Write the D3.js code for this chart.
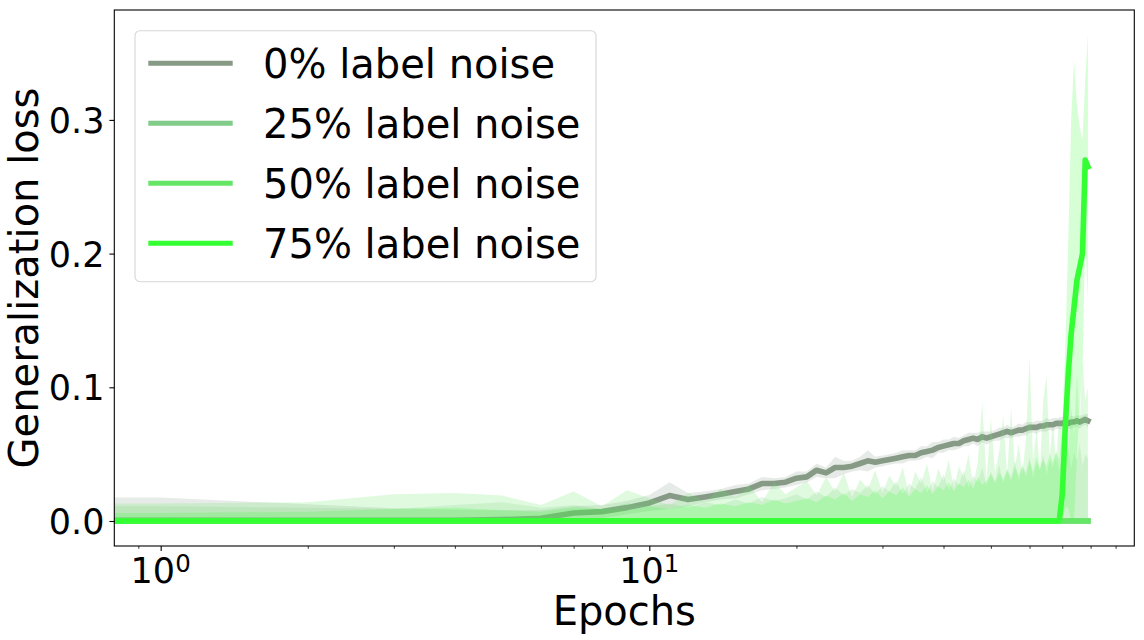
<!DOCTYPE html>
<html><head><meta charset="utf-8">
<script src="https://cdn.jsdelivr.net/npm/d3@7"></script>
<style>
body{margin:0;background:#fff;}
svg{display:block;}
text{font-family:"DejaVu Sans",sans-serif;fill:#000;}
</style>
</head><body>
<svg id="c" width="1144" height="640"></svg>
<script>
// ---------- data (epochs 1..79) ----------
const epochs = d3.range(1, 80);

const mean0 = [
  0.0005,0.0005,0.0005,0.0005,0.001,0.002,0.006,0.007,0.010,0.0135,
  0.019,0.016,0.018,0.020,0.022,0.024,0.028,0.028,0.029,0.032,
  0.033,0.038,0.036,0.040,0.040,0.041,0.043,0.045,0.044,0.045,
  0.046,0.047,0.048,0.049,0.049,0.051,0.052,0.053,0.055,0.056,
  0.057,0.058,0.058,0.060,0.061,0.062,0.061,0.063,0.062,0.063,
  0.064,0.065,0.066,0.067,0.066,0.067,0.068,0.068,0.069,0.070,
  0.070,0.070,0.071,0.071,0.072,0.072,0.072,0.073,0.073,0.073,
  0.074,0.073,0.074,0.074,0.075,0.074,0.075,0.076,0.075
];
const spread0 = [
  0.017,0.012,0.009,0.008,0.007,0.006,0.005,0.005,0.005,0.006,
  0.010,0.005,0.004,0.004,0.005,0.004,0.005,0.004,0.004,0.005,
  0.004,0.005,0.004,0.008,0.005,0.004,0.005,0.008,0.004,0.004,
  0.004,0.004,0.005,0.004,0.004,0.005,0.004,0.006,0.004,0.005,
  0.004,0.005,0.004,0.004,0.005,0.004,0.005,0.004,0.005,0.004,
  0.004,0.005,0.004,0.005,0.004,0.004,0.005,0.004,0.005,0.004,
  0.004,0.005,0.004,0.004,0.005,0.004,0.005,0.004,0.004,0.005,
  0.004,0.004,0.005,0.004,0.004,0.005,0.004,0.004,0.005
];
const mean25 = [
  0,0,0,0,0,0,0,0,0,0, 0,0,0,0,0,0,0,0,0,0, 0,0,0,0,0,0,0,0,0,0,
  0,0,0,0,0,0,0,0,0,0, 0,0,0,0,0,0,0,0,0,0, 0,0,0,0,0,0,0,0,0,0,
  0,0,0,0,0,0,0,0,0,0, 0,0,0,0,0,0,0,0,0
];
const spread25 = [
  0.011,0.010,0.009,0.012,0.014,0.010,0.012,0.009,0.013,0.011,
  0.013,0.010,0.014,0.012,0.016,0.013,0.018,0.015,0.017,0.020,
  0.016,0.022,0.018,0.025,0.019,0.024,0.021,0.027,0.020,0.026,
  0.022,0.030,0.020,0.028,0.024,0.033,0.021,0.030,0.025,0.035,
  0.023,0.032,0.027,0.038,0.025,0.034,0.029,0.040,0.026,0.037,
  0.030,0.042,0.028,0.039,0.033,0.045,0.030,0.041,0.036,0.048,
  0.032,0.044,0.038,0.050,0.034,0.046,0.040,0.052,0.037,0.049,
  0.042,0.055,0.039,0.051,0.045,0.058,0.041,0.050,0.047
];
const mean50 = [
  0,0,0,0,0,0,0,0,0,0, 0,0,0,0,0,0,0,0,0,0, 0,0,0,0,0,0,0,0,0,0,
  0,0,0,0,0,0,0,0,0,0, 0,0,0,0,0,0,0,0,0,0, 0,0,0,0,0,0,0,0,0,0,
  0,0,0,0,0,0,0,0,0,0, 0,0,0,0,0,0,0,0,0
];
const spread50 = [
  0.013,0.014,0.020,0.021,0.019,0.012,0.022,0.011,0.023,0.017,
  0.012,0.021,0.015,0.024,0.018,0.027,0.014,0.029,0.020,0.025,
  0.030,0.019,0.033,0.022,0.036,0.018,0.031,0.024,0.038,0.021,
  0.034,0.026,0.040,0.020,0.037,0.028,0.043,0.022,0.039,0.030,
  0.046,0.024,0.041,0.033,0.050,0.027,0.044,0.089,0.031,0.077,
  0.036,0.052,0.079,0.034,0.085,0.040,0.058,0.035,0.062,0.123,
  0.045,0.070,0.038,0.090,0.109,0.048,0.075,0.042,0.080,0.060,
  0.095,0.050,0.085,0.065,0.110,0.070,0.120,0.090,0.100
];
const mean75 = [
  0,0,0,0,0,0,0,0,0,0, 0,0,0,0,0,0,0,0,0,0, 0,0,0,0,0,0,0,0,0,0,
  0,0,0,0,0,0,0,0,0,0, 0,0,0,0,0,0,0,0,0,0, 0,0,0,0,0,0,0,0,0,0,
  0,0,0,0,0,0,0,0,0,0.02, 0.07,0.11,0.14,0.16,0.18,0.19,0.20,0.27,0.265
];
const spread75 = [
  0.006,0.007,0.009,0.010,0.008,0.007,0.010,0.009,0.008,0.011,
  0.009,0.012,0.010,0.013,0.011,0.014,0.012,0.016,0.013,0.015,
  0.017,0.014,0.019,0.016,0.021,0.015,0.020,0.018,0.023,0.017,
  0.022,0.019,0.025,0.018,0.024,0.021,0.027,0.020,0.026,0.023,
  0.029,0.022,0.028,0.025,0.031,0.024,0.033,0.027,0.030,0.035,
  0.028,0.036,0.031,0.038,0.030,0.040,0.034,0.042,0.033,0.045,
  0.037,0.048,0.039,0.046,0.041,0.050,0.044,0.052,0.046,0.050,
  0.060,0.100,0.160,0.185,0.130,0.105,0.085,0.060,0.100
];

const seriesNames = ["0% label noise","25% label noise","50% label noise","75% label noise"];
const seriesColors = ["#869a86","#80cc88","#66e666","#33ff33"];
const seriesMeans = [mean0, mean25, mean50, mean75];
const seriesSpreads = [spread0, spread25, spread50, spread75];

const yTicks = [0, 0.1, 0.2, 0.3];
const yTickLabels = ["0.0","0.1","0.2","0.3"];
const xMajorTicks = [1, 10];
const xMajorExps = ["0","1"];
const xMinorTicks = [0.9,2,3,4,5,6,7,8,9,20,30,40,50,60,70,80,90];

// ---------- layout ----------
const L = 114.3, R = 1134.3, T = 10, B = 546;
const xLo = Math.pow(10, -0.0949), xHi = Math.pow(10, 1.9925);
const x = d3.scaleLog().domain([xLo, xHi]).range([L, R]);
const y = d3.scaleLinear().domain([-0.0187, 0.3822]).range([B, T]);

const svg = d3.select("#c");
svg.append("defs").append("clipPath").attr("id","clip")
  .append("rect").attr("x",L).attr("y",T).attr("width",R-L).attr("height",B-T);

const plot = svg.append("g").attr("clip-path","url(#clip)");

const area = d3.area().x(d=>x(d.e)).y0(d=>y(d.lo)).y1(d=>y(d.hi));
const line = d3.line().x(d=>x(d.e)).y(d=>y(d.m));

seriesNames.forEach((name, i) => {
  const rows = epochs.map((e, j) => ({
    e, m: seriesMeans[i][j],
    lo: Math.max(0, seriesMeans[i][j] - seriesSpreads[i][j]),
    hi: seriesMeans[i][j] + seriesSpreads[i][j]
  }));
  // epoch 0 is clipped by the log axis: the curve runs flat to the left edge
  const pts = [Object.assign({}, rows[0], {e: xLo}), ...rows];
  plot.append("path").attr("d", area(pts))
    .attr("fill", seriesColors[i]).attr("fill-opacity", 0.2).attr("stroke","none");
  plot.append("path").attr("d", line(pts))
    .attr("fill","none").attr("stroke", seriesColors[i])
    .attr("stroke-width", 5.6).attr("stroke-linecap","square").attr("stroke-linejoin","round");
});

// ---------- axes ----------
const yAxis = d3.axisLeft(y).tickValues(yTicks).tickFormat((d,i)=>yTickLabels[i])
  .tickSize(4.9).tickPadding(4.9).tickSizeOuter(0);
const gy = svg.append("g").attr("transform",`translate(${L},0)`).call(yAxis);
gy.select(".domain").remove();
gy.selectAll("text").attr("font-size",35).attr("font-family","DejaVu Sans").attr("dy","0.36em");
gy.selectAll("line").attr("stroke","#000").attr("stroke-width",1.1);

const xAxisMajor = d3.axisBottom(x).tickValues(xMajorTicks).tickFormat("").tickSize(4.9).tickSizeOuter(0);
const gx = svg.append("g").attr("transform",`translate(0,${B})`).call(xAxisMajor);
gx.select(".domain").remove();
gx.selectAll("line").attr("stroke","#000").attr("stroke-width",1.1);

const xAxisMinor = d3.axisBottom(x).tickValues(xMinorTicks).tickFormat("").tickSize(2.8).tickSizeOuter(0);
const gxm = svg.append("g").attr("transform",`translate(0,${B})`).call(xAxisMinor);
gxm.select(".domain").remove();
gxm.selectAll("line").attr("stroke","#000").attr("stroke-width",0.8);

xMajorTicks.forEach((t, i) => {
  const tx = svg.append("text").attr("x", x(t)).attr("y", 583)
    .attr("text-anchor","middle").attr("font-size",35);
  tx.append("tspan").text("10");
  tx.append("tspan").attr("font-size",24.5).attr("dy",-11).text(xMajorExps[i]);
});

// frame
svg.append("rect").attr("x",L).attr("y",T).attr("width",R-L).attr("height",B-T)
  .attr("fill","none").attr("stroke","#000").attr("stroke-width",1.1);

// labels
svg.append("text").attr("x",(L+R)/2).attr("y",625).attr("text-anchor","middle")
  .attr("font-size",40).text("Epochs");
svg.append("text").attr("transform",`translate(38,${(T+B)/2}) rotate(-90)`)
  .attr("text-anchor","middle").attr("font-size",40).text("Generalization loss");

// ---------- legend ----------
const lg = svg.append("g");
lg.append("rect").attr("x",135).attr("y",30.7).attr("width",461).attr("height",251)
  .attr("rx",5).attr("fill","#fff").attr("fill-opacity",0.8)
  .attr("stroke","#d6d6d6").attr("stroke-width",1.1);
seriesNames.forEach((name, i) => {
  const ly = 63.3 + i*60;
  lg.append("line").attr("x1",148.3).attr("x2",232.7).attr("y1",ly).attr("y2",ly)
    .attr("stroke",seriesColors[i]).attr("stroke-width",5);
  lg.append("text").attr("x",263).attr("y",ly+15).attr("font-size",40).text(name);
});
</script>
</body></html>
